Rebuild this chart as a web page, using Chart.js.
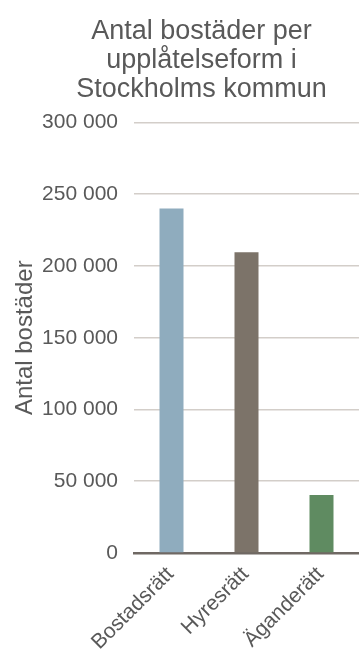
<!DOCTYPE html>
<html lang="sv">
<head>
<meta charset="utf-8">
<script src="https://cdn.jsdelivr.net/npm/chart.js@4"></script>
<style>
  html, body { margin: 0; padding: 0; background: #ffffff; }
  #wrap { width: 359px; height: 653px; }
</style>
</head>
<body>
<div id="wrap"><canvas id="c"></canvas></div>
<script>
// Antal bostäder per upplåtelseform
const categories = ['Bostadsrätt', 'Hyresrätt', 'Äganderätt'];
const bostader = [240000, 209500, 40500];
const barColors = ['#8facbe', '#7c7369', '#5f8b61'];
const yTicks = [0, 50000, 100000, 150000, 200000, 250000, 300000];
const titleLines = ['Antal bostäder per', 'upplåtelseform i', 'Stockholms kommun'];
const yTitle = 'Antal bostäder';

const FONT = "'Liberation Sans', Arial, sans-serif";
const TEXT = '#595959';

function fmt(v) {
  return String(v).replace(/\B(?=(\d{3})+(?!\d))/g, ' ');
}

// Shift the title block so it sits centred a little right of the canvas middle
const titleShift = {
  id: 'titleShift',
  afterLayout(chart) {
    if (chart.titleBlock) chart.titleBlock.left += 44;
  }
};

new Chart(document.getElementById('c'), {
  type: 'bar',
  data: {
    labels: categories,
    datasets: [{
      data: bostader,
      backgroundColor: barColors,
      borderWidth: 0,
      barPercentage: 0.32,
      categoryPercentage: 1
    }]
  },
  options: {
    responsive: true,
    maintainAspectRatio: false,
    animation: false,
    layout: { padding: { left: 0, right: 0, top: 0, bottom: 0 } },
    plugins: {
      legend: { display: false },
      tooltip: { enabled: false },
      title: {
        display: true,
        text: titleLines,
        color: TEXT,
        font: { family: FONT, size: 27, weight: 'normal', lineHeight: 1.08 },
        padding: { top: 17, bottom: 18 }
      }
    },
    scales: {
      x: {
        grid: { display: false },
        border: { display: true, color: '#6f6863', width: 2.5 },
        ticks: {
          color: TEXT,
          font: { family: FONT, size: 21 },
          minRotation: 45,
          maxRotation: 45,
          padding: 1,
          labelOffset: -1
        },
        afterFit(scale) { scale.height = 100; }
      },
      y: {
        min: 0,
        max: 300000,
        afterBuildTicks(scale) { scale.ticks = yTicks.map(v => ({ value: v })); },
        grid: { color: '#d3cec9', lineWidth: 1.5, drawTicks: false },
        border: { display: false },
        ticks: {
          color: TEXT,
          font: { family: FONT, size: 21 },
          padding: 16,
          callback: v => fmt(v)
        },
        title: {
          display: true,
          text: yTitle,
          color: TEXT,
          font: { family: FONT, size: 24 },
          padding: { top: 11, bottom: 0 }
        },
        afterFit(scale) { scale.width = 134; }
      }
    }
  },
  plugins: [titleShift]
});
</script>
</body>
</html>
